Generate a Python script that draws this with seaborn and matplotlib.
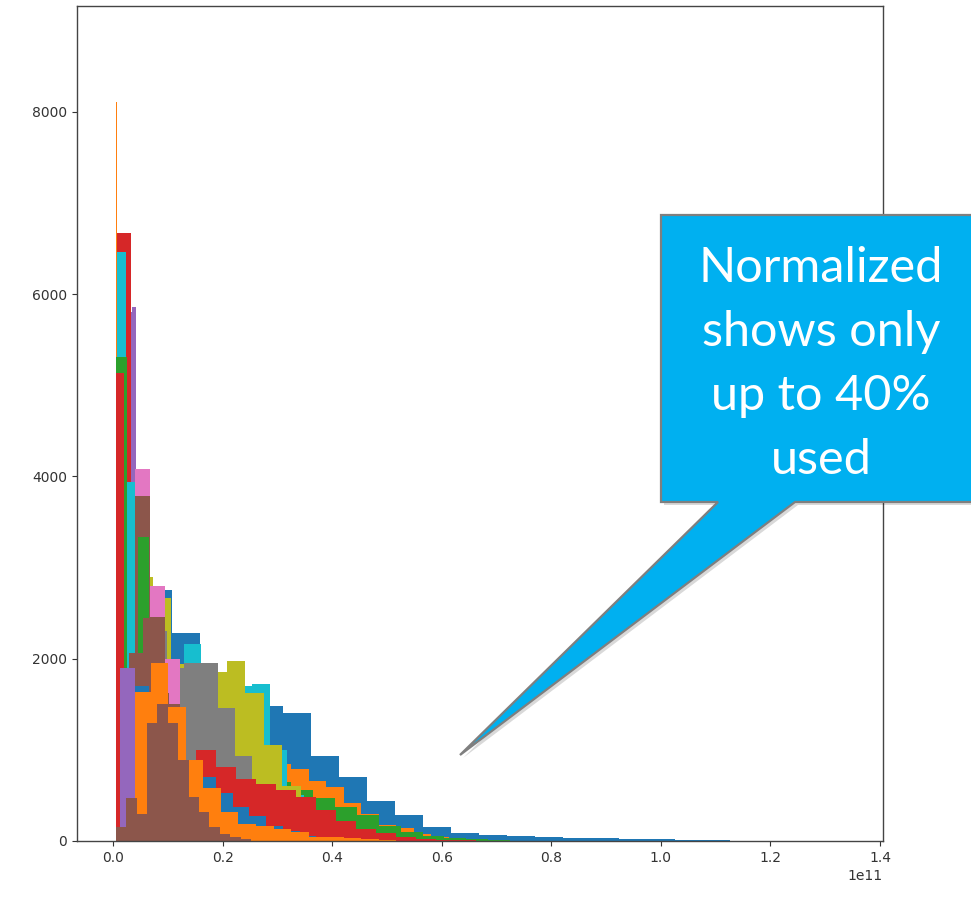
import numpy as np
import pandas as pd
import matplotlib
matplotlib.use("Agg")
import matplotlib.pyplot as plt
from matplotlib.patches import Polygon
import seaborn as sns

# ---- data: each series = (colour, first bin edge [1e11], bin width [1e11], bin counts) ----
blue_a_start, blue_a_width = 0.005, 0.051
blue_a_counts = [1700, 2750, 2280, 1850, 1650, 1480, 1400, 930, 700, 440, 285, 154,
                 90, 70, 55, 45, 35, 30, 25, 20, 15, 10]
orange_a_start, orange_a_width = 0.005, 0.032
orange_a_counts = [1200, 1300, 1300, 1250, 1200, 1100, 1000, 950, 900, 850, 790, 660,
                   590, 420, 300, 180, 145, 75, 40, 20, 10]
green_a_start, green_a_width = 0.005, 0.04
green_a_counts = [2500, 2200, 1500, 1200, 950, 850, 750, 650, 560, 470, 370, 285, 165,
                  100, 55, 30, 20, 10, 5]
cyan_mid_start, cyan_mid_width = 0.005, 0.0312
cyan_mid_counts = [3000, 2500, 2300, 1900, 2160, 1850, 1800, 1700, 1720, 1000, 500,
                   300, 200, 120, 60, 30, 15]
olive_start, olive_width = 0.005, 0.0338
olive_counts = [3000, 2900, 2670, 1940, 1880, 1850, 1970, 1620, 1050, 600, 300, 200,
                120, 80, 40, 20, 10]
gray_start, gray_width = 0.005, 0.0312
gray_counts = [2500, 2400, 2300, 1900, 1950, 1950, 1460, 930, 600, 350, 200, 100, 50,
               20, 10]
red_a_start, red_a_width = 0.005, 0.0365
red_a_counts = [3000, 2400, 1800, 880, 1000, 810, 680, 625, 560, 485, 340, 220, 130,
                85, 45, 25, 15, 10]
purple_n_start, purple_n_width = 0.005, 0.0075
purple_n_counts = [1000, 3000, 5000, 5800, 5860, 4000, 3000, 2000, 1200, 700, 400, 200,
                   100, 50]
red_tall_start, red_tall_width = 0.005, 0.0275
red_tall_counts = [6670, 3500, 2000, 1000, 500, 250, 120, 60, 30]
cyan_tall_start, cyan_tall_width = 0.005, 0.018
cyan_tall_counts = [6460, 3940, 1500, 600, 250, 100, 50, 20]
orange_spike_start, orange_spike_width = 0.005, 0.003
orange_spike_counts = [8110]
pink_start, pink_width = 0.04, 0.0275
pink_counts = [4080, 2800, 2000, 800, 400, 200, 100, 50, 20]
brown_a_start, brown_a_width = 0.04, 0.0275
brown_a_counts = [3790, 2460, 1500, 800, 400, 200]
green_tall_start, green_tall_width = 0.005, 0.02
green_tall_counts = [5310, 1200, 3340, 1800, 1000, 500, 250, 120, 60, 30]
red_b_start, red_b_width = 0.005, 0.015
red_b_counts = [5140, 1500, 500, 200, 100]
brown_mid_start, brown_mid_width = 0.03, 0.024
brown_mid_counts = [2060, 2450, 1620, 1300, 890, 480, 320, 120, 50, 20]
blue_b_start, blue_b_width = 0.005, 0.0305
blue_b_counts = [100, 1700, 1500, 1100, 800, 700, 525, 375, 275, 170, 110, 60, 30, 15]
orange_b_start, orange_b_width = 0.005, 0.032
orange_b_counts = [100, 1640, 1950, 1470, 890, 580, 320, 190, 165, 130, 100, 45, 45,
                   30, 20, 10]
purple_block_start, purple_block_width = 0.0125, 0.0275
purple_block_counts = [1900, 100, 50]
brown_low_start, brown_low_width = 0.005, 0.019
brown_low_counts = [150, 470, 300, 1300, 1500, 1300, 890, 480, 320, 150, 80, 40, 20]

series = [
    ("tab:blue", blue_a_start, blue_a_width, blue_a_counts),
    ("tab:orange", orange_a_start, orange_a_width, orange_a_counts),
    ("tab:green", green_a_start, green_a_width, green_a_counts),
    ("tab:cyan", cyan_mid_start, cyan_mid_width, cyan_mid_counts),
    ("tab:olive", olive_start, olive_width, olive_counts),
    ("tab:gray", gray_start, gray_width, gray_counts),
    ("tab:red", red_a_start, red_a_width, red_a_counts),
    ("tab:purple", purple_n_start, purple_n_width, purple_n_counts),
    ("tab:red", red_tall_start, red_tall_width, red_tall_counts),
    ("tab:cyan", cyan_tall_start, cyan_tall_width, cyan_tall_counts),
    ("tab:orange", orange_spike_start, orange_spike_width, orange_spike_counts),
    ("tab:pink", pink_start, pink_width, pink_counts),
    ("tab:brown", brown_a_start, brown_a_width, brown_a_counts),
    ("tab:green", green_tall_start, green_tall_width, green_tall_counts),
    ("tab:red", red_b_start, red_b_width, red_b_counts),
    ("tab:brown", brown_mid_start, brown_mid_width, brown_mid_counts),
    ("tab:blue", blue_b_start, blue_b_width, blue_b_counts),
    ("tab:orange", orange_b_start, orange_b_width, orange_b_counts),
    ("tab:purple", purple_block_start, purple_block_width, purple_block_counts),
    ("tab:brown", brown_low_start, brown_low_width, brown_low_counts),
]

callout_text = "Normalized\nshows only\nup to 40%\nused"

# ---- figure ----
W, H = 971, 908
fig = plt.figure(figsize=(W / 100, H / 100), dpi=100)
ax = fig.add_axes([77 / W, (H - 841) / H, (883 - 77) / W, (841 - 6) / H])

for color, start, width, counts in series:
    counts = [float(c) for c in counts]
    edges = [(start + width * i) * 1e11 for i in range(len(counts) + 1)]
    centers = [0.5 * (edges[i] + edges[i + 1]) for i in range(len(counts))]
    df = pd.DataFrame({"v": centers, "w": counts})
    sns.histplot(data=df, x="v", weights="w", bins=edges, color=color, alpha=1,
                 linewidth=0, ax=ax, stat="count")

ax.set_xlim(-0.0657e11, 1.4055e11)
ax.set_ylim(0, 9163)
ax.set_xticks(np.arange(0, 1.41e11, 0.2e11))
ax.set_yticks([0, 2000, 4000, 6000, 8000])
ax.set_xlabel("")
ax.set_ylabel("")
ax.tick_params(labelsize=10, colors="#333333")
ax.xaxis.get_offset_text().set_fontsize(10)
ax.xaxis.get_offset_text().set_color("#333333")
for s in ax.spines.values():
    s.set_color("#444444")
    s.set_linewidth(1.0)

# ---- callout ----
pts = [(661, 215), (980, 215), (980, 502), (795, 502), (460, 755), (718, 502), (661, 502)]
fpts = [(x / W, 1 - y / H) for x, y in pts]
shadow = Polygon([(x + 3 / W, y - 3 / H) for x, y in fpts], closed=True,
                 transform=fig.transFigure, facecolor="#000000", alpha=0.15,
                 edgecolor="none", zorder=9)
fig.add_artist(shadow)
bubble = Polygon(fpts, closed=True, transform=fig.transFigure, facecolor="#00B0F0",
                 edgecolor="#7F7F7F", linewidth=1.6, zorder=10, joinstyle="miter")
fig.add_artist(bubble)
fig.text(821 / W, 1 - 364 / H, callout_text, color="white", fontsize=35,
         family="Lato", ha="center", va="center", linespacing=1.55, zorder=11)

fig.savefig("out.png", dpi=100)
